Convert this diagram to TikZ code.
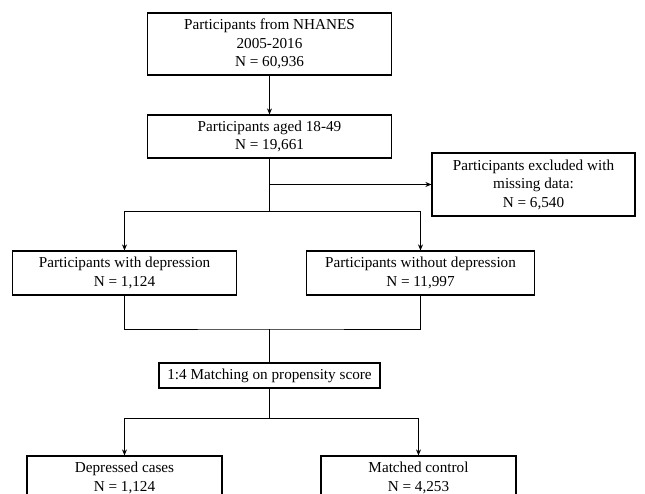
\documentclass[tikz,border=0pt]{standalone}
\usepackage{fontspec}
\setmainfont{Liberation Serif}
\usetikzlibrary{arrows.meta}

\tikzset{
  flowbox/.style={draw, line width=1.2pt, align=center, inner sep=2pt,
    font=\fontsize{15.2}{18.5}\selectfont},
  link/.style={line width=1pt},
  arr/.style={link, -{Stealth[length=6pt,width=5pt]}},
}

\begin{document}
\begin{tikzpicture}[x=1pt, y=-1pt]

% --- Frame (lower boxes run off the bottom) ---
\useasboundingbox (0,0) rectangle (645,494);
\clip (0,0) rectangle (645,494);

% --- Boxes ---
\node[flowbox, minimum width=244, minimum height=62] (nhanes) at (269.5,44)
  {Participants from NHANES\\2005-2016\\N = 60,936};
\node[flowbox, minimum width=244, minimum height=43] (aged) at (269.5,136.5)
  {Participants aged 18-49\\N = 19,661};
\node[flowbox, minimum width=203, minimum height=63] (excluded) at (533.5,184.5)
  {Participants excluded with\\missing data:\\N = 6,540};

\node[flowbox, minimum width=224, minimum height=44] (withdep) at (124.5,273)
  {Participants with depression\\N = 1,124};
\node[flowbox, minimum width=228, minimum height=44] (nodep) at (420.5,273)
  {Participants without depression\\N = 11,997};

\node[flowbox, minimum width=221, minimum height=25] (matching) at (269.5,375.5)
  {1:4 Matching on propensity score};

\node[flowbox, minimum width=195, minimum height=44] (cases) at (124.5,478)
  {Depressed cases\\N = 1,124};
\node[flowbox, minimum width=195, minimum height=44] (controls) at (418.5,478)
  {Matched control\\N = 4,253};

% --- Junctions ---
\coordinate (split1) at (269.5,212);
\coordinate (merge) at (269.5,329);
\coordinate (split2) at (269.5,418);

% --- Connectors ---
\draw[arr] (nhanes) -- (aged);
\draw[link] (aged) -- (split1);
\draw[arr] (aged.south |- excluded.west) -- (excluded.west);
\draw[arr] (split1) -| (withdep.north);
\draw[arr] (split1) -| (nodep.north);

\draw[link] (withdep.south) |- (merge) -| (nodep.south);
\draw[link] (merge) -- (matching);

\draw[link] (matching) -- (split2);
\draw[arr] (split2) -| (cases.north);
\draw[arr] (split2) -| (controls.north);

\end{tikzpicture}
\end{document}
